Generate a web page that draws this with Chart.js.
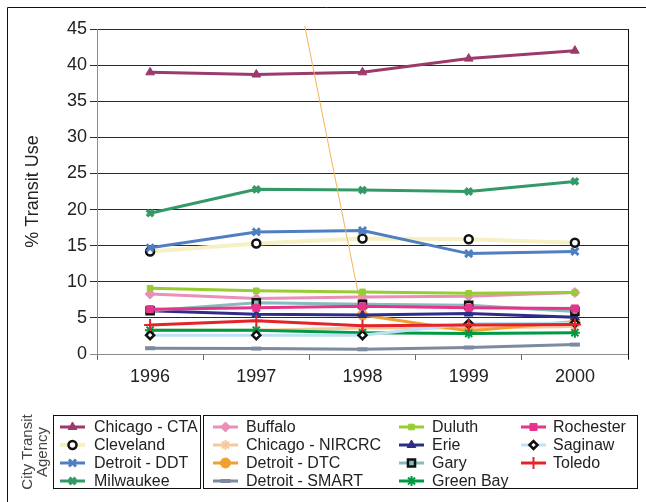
<!DOCTYPE html>
<html>
<head>
<meta charset="utf-8">
<script src="https://cdn.jsdelivr.net/npm/chart.js@4.4.0/dist/chart.umd.min.js"></script>
<style>
  html, body { margin: 0; padding: 0; background: #fff; }
  #wrap { width: 646px; height: 502px; }
</style>
</head>
<body>
<div id="wrap"><canvas id="c" width="646" height="502"></canvas></div>
<script>
// years on the x axis
const years = ['1996', '1997', '1998', '1999', '2000'];

// % transit use per agency
const chicagoCTA    = [39.0, 38.7, 39.0, 40.9, 42.0];
const cleveland     = [14.2, 15.3, 16.0, 15.9, 15.4];
const detroitDDT    = [14.7, 16.9, 17.1, 13.9, 14.2];
const milwaukee     = [19.5, 22.8, 22.7, 22.5, 23.9];
const buffalo       = [8.3, 7.7, 7.9, 8.0, 8.5];
const chicagoNIRCRC = [3.3, 3.3, 3.6, 3.6, 3.8];
const detroitDTC    = [null, 79, 5.4, 3.2, 4.5]; // 1997 is off the scale (thin line from the top)
const detroitSMART  = [0.8, 0.75, 0.65, 0.9, 1.3];
const duluth        = [9.1, 8.75, 8.6, 8.4, 8.5];
const erie          = [6.0, 5.5, 5.4, 5.6, 5.1];
const gary          = [6.0, 7.1, 6.9, 6.75, 5.9];
const greenBay      = [3.3, 3.3, 2.95, 2.85, 2.95];
const rochester     = [6.2, 6.4, 6.6, 6.4, 6.3];
const saginaw       = [2.6, 2.6, 2.6, 4.2, 4.3];
const toledo        = [4.0, 4.6, 3.9, 4.0, 4.1];

const FONT = '"Liberation Sans", Arial, sans-serif';

// small helper so every series looks like the excel one
function series(label, data, line, style, fill, border, radius, bw, extra) {
    return Object.assign({
        label: label,
        data: data,
        borderColor: line,
        backgroundColor: line,
        borderWidth: 3,
        pointStyle: style,
        pointBackgroundColor: fill,
        pointBorderColor: border,
        pointBorderWidth: bw,
        pointRadius: radius,
        pointHoverRadius: radius,
        tension: 0,
        fill: false
    }, extra || {});
}

const datasets = [
    series('Chicago - CTA', chicagoCTA, '#9b3a6b', 'triangle', '#9b3a6b', '#9b3a6b', 5, 1),
    series('Cleveland', cleveland, '#f6f1c4', 'circle', '#ffffff', '#111111', 4, 2.5, { borderWidth: 4 }),
    series('Detroit - DDT', detroitDDT, '#4f7fc0', 'crossRot', '#4f7fc0', '#4f7fc0', 5, 3),
    series('Milwaukee', milwaukee, '#339966', 'crossRot', '#339966', '#339966', 4.5, 3.5),
    series('Buffalo', buffalo, '#e98fb8', 'rectRot', '#e98fb8', '#e98fb8', 5, 1),
    series('Chicago - NIRCRC', chicagoNIRCRC, '#f5c99b', 'star', '#f5c99b', '#f5c99b', 5, 2),
    series('Detroit - DTC', detroitDTC, '#f0a030', 'circle', '#f0a030', '#f0a030', 5, 1, {
        clip: { left: 8, top: 3, right: 8, bottom: 8 },
        segment: {
            borderWidth: c => c.p0DataIndex === 1 ? 1 : 3,
            borderColor: c => c.p0DataIndex === 1 ? '#f5b45c' : '#f0a030'
        }
    }),
    series('Detroit - SMART', detroitSMART, '#7d8aa0', 'line', '#7d8aa0', '#7d8aa0', 5, 4),
    series('Duluth', duluth, '#99cc33', 'rect', '#99cc33', '#99cc33', 4, 1),
    series('Erie', erie, '#2e2e8a', 'triangle', '#2e2e8a', '#2e2e8a', 5, 1),
    series('Gary', gary, '#86bcbc', 'rect', '#7fbfbf', '#111111', 5, 2.5),
    series('Green Bay', greenBay, '#009a44', 'star', '#009a44', '#009a44', 5, 2),
    series('Rochester', rochester, '#e5358a', 'rect', '#e5358a', '#e5358a', 5, 1),
    series('Saginaw', saginaw, '#bfe1f5', 'rectRot', '#ffffff', '#111111', 4, 2.5),
    series('Toledo', toledo, '#e3242b', 'cross', '#e3242b', '#e3242b', 6, 2)
];
// later series on top, like excel
datasets.forEach((d, i) => { d.order = -i; });

// legend layout: two boxes, columns of series indexes
const legendCols = [
    { sx: 60, tx: 94, items: [0, 1, 2, 3] },
    { sx: 213, tx: 246, items: [4, 5, 6, 7] },
    { sx: 399, tx: 432, items: [8, 9, 10, 11] },
    { sx: 521, tx: 553, items: [12, 13, 14] }
];
const legendRows = [427, 445, 463, 481];

const framePlugin = {
    id: 'frame',
    beforeDraw(chart) {
        const ctx = chart.ctx;
        ctx.save();
        ctx.fillStyle = '#fff';
        ctx.fillRect(0, 0, chart.width, chart.height);
        ctx.restore();
    },
    afterDraw(chart) {
        const ctx = chart.ctx;
        const a = chart.chartArea;
        ctx.save();
        ctx.lineWidth = 1;
        ctx.strokeStyle = '#111';

        // outer frame (only top and left show)
        ctx.beginPath();
        ctx.moveTo(7.5, 502);
        ctx.lineTo(7.5, 7.5);
        ctx.lineTo(646, 7.5);
        ctx.stroke();

        // right edge of plot area
        ctx.beginPath();
        ctx.moveTo(Math.round(a.right) + 0.5, a.top);
        ctx.lineTo(Math.round(a.right) + 0.5, a.bottom + 5);
        ctx.stroke();

        // legend boxes
        ctx.strokeRect(53.5, 415.5, 147, 73);
        ctx.strokeRect(203.5, 415.5, 434, 73);

        // legend title, rotated
        ctx.fillStyle = '#444';
        ctx.font = '15px ' + FONT;
        ctx.textAlign = 'center';
        ctx.textBaseline = 'middle';
        ctx.save();
        ctx.translate(28, 452);
        ctx.rotate(-Math.PI / 2);
        ctx.fillText('City Transit', 0, 0);
        ctx.fillText('Agency', 0, 15);
        ctx.restore();

        // legend entries
        ctx.font = '16px ' + FONT;
        ctx.textAlign = 'left';
        legendCols.forEach(col => {
            col.items.forEach((di, r) => {
                const ds = chart.data.datasets[di];
                const y = legendRows[r];
                ctx.strokeStyle = ds.borderColor;
                ctx.lineWidth = ds.borderWidth;
                ctx.beginPath();
                ctx.moveTo(col.sx, y);
                ctx.lineTo(col.sx + 25, y);
                ctx.stroke();
                ctx.fillStyle = ds.pointBackgroundColor;
                ctx.strokeStyle = ds.pointBorderColor;
                ctx.lineWidth = ds.pointBorderWidth;
                Chart.helpers.drawPoint(ctx, {
                    pointStyle: ds.pointStyle,
                    radius: ds.pointRadius,
                    rotation: 0,
                    borderWidth: ds.pointBorderWidth
                }, col.sx + 12.5, y);
                ctx.fillStyle = '#222';
                ctx.fillText(ds.label, col.tx, y + 1);
            });
        });
        ctx.restore();
    }
};

new Chart(document.getElementById('c'), {
    type: 'line',
    data: { labels: years, datasets: datasets },
    options: {
        responsive: false,
        animation: false,
        layout: { padding: { left: 0, top: 29, right: 18, bottom: 0 } },
        plugins: {
            legend: { display: false },
            tooltip: { enabled: false }
        },
        scales: {
            x: {
                offset: true,
                afterFit: s => { s.height = 148; },
                grid: {
                    offset: true,
                    drawOnChartArea: false,
                    drawTicks: true,
                    tickLength: 6,
                    color: '#666'
                },
                border: { color: '#8c8c8c', width: 1 },
                ticks: {
                    color: '#222',
                    padding: 6,
                    maxRotation: 0,
                    font: { family: FONT, size: 18 }
                }
            },
            y: {
                min: 0,
                max: 45,
                afterFit: s => { s.width = 97; },
                grid: {
                    color: c => c.tick && c.tick.value === 0 ? '#8c8c8c' : '#2a2a2a',
                    tickLength: 7,
                    lineWidth: 1
                },
                border: { color: '#8c8c8c', width: 1 },
                ticks: {
                    stepSize: 5,
                    color: '#222',
                    padding: 3,
                    font: { family: FONT, size: 18 }
                },
                title: {
                    display: true,
                    text: '% Transit Use',
                    color: '#222',
                    font: { family: FONT, size: 18 },
                    padding: { top: 22, bottom: 0 }
                }
            }
        }
    },
    plugins: [framePlugin]
});
</script>
</body>
</html>
